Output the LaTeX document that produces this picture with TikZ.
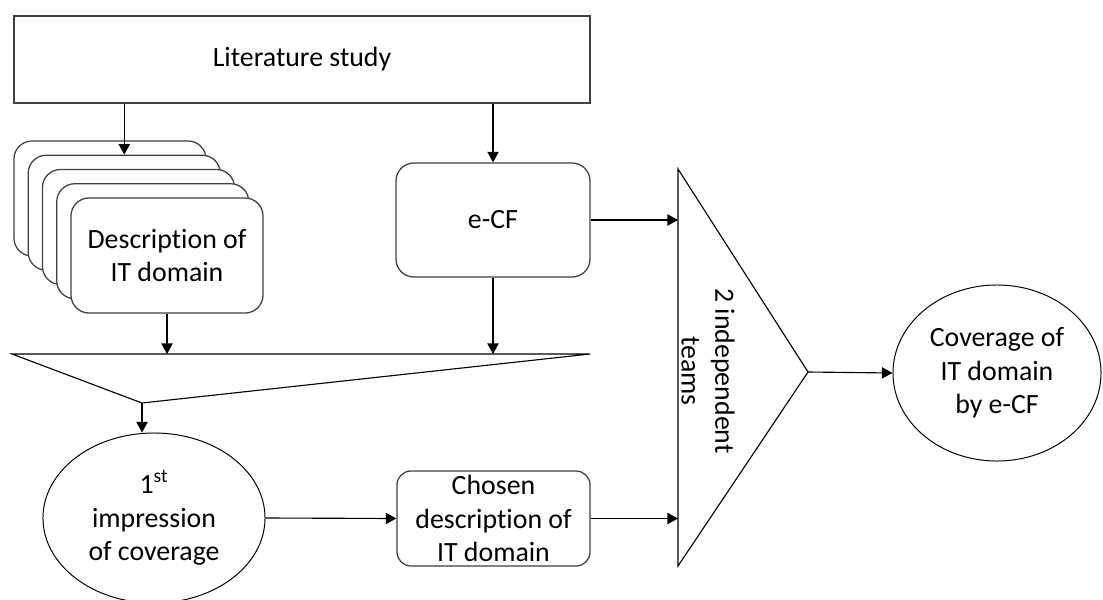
\documentclass[tikz,border=0pt]{standalone}
\usepackage{fontspec}
\setmainfont{Carlito}[Ligatures=CommonOff]
\usetikzlibrary{arrows.meta,shapes.geometric}

\newcommand{\diagfont}{\fontsize{19.8pt}{23.9pt}\selectfont}

\begin{document}
\begin{tikzpicture}[x=0.025cm,y=-0.025cm,
  plainbox/.style={draw=black!75,line width=.9pt,fill=white,inner sep=0pt,
    font=\diagfont,align=center},
  litbox/.style={plainbox,minimum width=14.4cm,minimum height=2.175cm},
  docbox/.style={plainbox,rounded corners=4.5mm,minimum width=4.8cm,minimum height=2.875cm},
  ecfbox/.style={plainbox,rounded corners=4.5mm,minimum width=4.85cm,minimum height=2.85cm},
  chosenbox/.style={plainbox,rounded corners=3.5mm,minimum width=4.825cm,minimum height=2.375cm},
  oval/.style={ellipse,draw=black,line width=.7pt,fill=white,inner sep=0pt,
    font=\diagfont,align=center},
  merge/.style={draw=black,line width=.8pt,line join=miter},
  flow/.style={-{Triangle[length=7.5pt,width=8pt]},draw=black,line width=.8pt}
]
\useasboundingbox (0,0) rectangle (1103,599);

\node[litbox] (lit) at (302,59.5) {Literature study};

% stack of domain descriptions, back to front
\foreach \k in {1,...,4}
  \node[docbox] (doc\k) at ({167-14.25*(5-\k)},{255.5-14.25*(5-\k)}) {};
\node[docbox] (doc5) at (167,255.5) {Description of\\IT domain};

\node[ecfbox] (ecf) at (493,220) {e-CF};

% merge triangle
\coordinate (mergeL) at (12,354);
\coordinate (mergeR) at (590,354);
\coordinate (mergeA) at (142,403);
\draw[merge] (mergeL) -- (mergeR) -- (mergeA) -- cycle;

\node[oval,minimum width=5.55cm,minimum height=4.25cm] (first) at (154,518)
  {1\textsuperscript{st}\\impression\\of coverage};
\node[chosenbox] (chosen) at (493.5,518.5) {Chosen\\description of\\IT domain};

% teams triangle
\coordinate (teamsT) at (678,169);
\coordinate (teamsB) at (678,566);
\coordinate (teamsA) at (808,372);
\draw[merge] (teamsT) -- (teamsB) -- (teamsA) -- cycle;
\node[font=\diagfont,align=center,rotate=-90] (teams) at (708,371) {2 independent\\teams};

\node[oval,minimum width=5.2cm,minimum height=4.4cm] (cover) at (997,373)
  {Coverage of\\IT domain\\by e-CF};

\draw[flow] (lit.south -| doc2.north) -- (doc2.north);
\draw[flow] (lit.south -| ecf.north) -- (ecf.north);
\draw[flow] (doc5.south) -- (doc5.south |- mergeL);
\draw[flow] (ecf.south) -- (ecf.south |- mergeL);
\draw[flow] (mergeA) -- (mergeA |- first.north);
\draw[flow] (first.east) -- (chosen.west);
\draw[flow] (ecf.east) -- (ecf.east -| teamsT);
\draw[flow] (chosen.east) -- (chosen.east -| teamsT);
\draw[flow] (teamsA) -- (cover.west);
\end{tikzpicture}
\end{document}
